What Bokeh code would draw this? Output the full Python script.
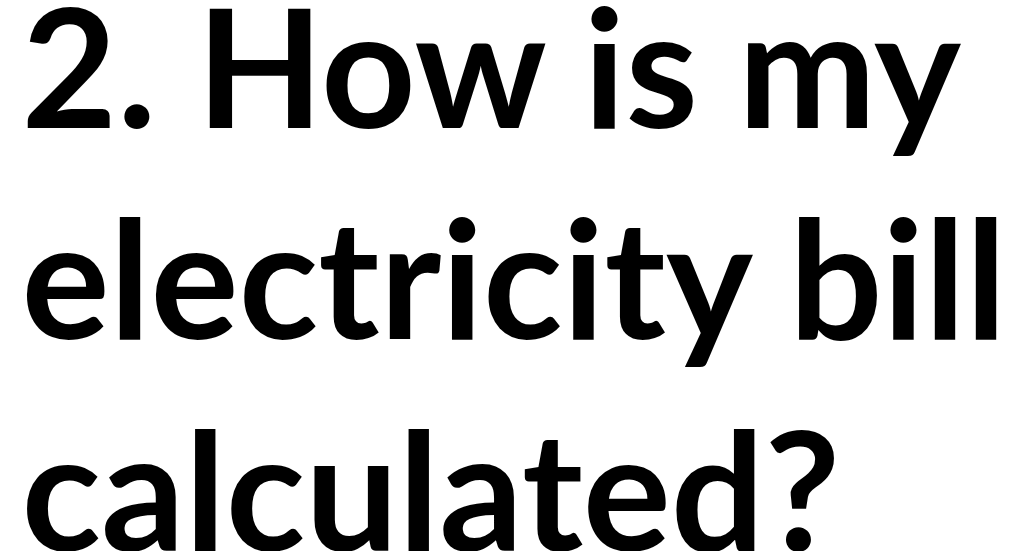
from bokeh.plotting import figure
from bokeh.models import Range1d, ColumnDataSource
from bokeh.core.properties import value
from bokeh.embed import file_html
from bokeh.resources import INLINE

lines = ["2. How is my", "electricity bill", "calculated?"]

W, H = 999, 551
FONT_PX = 165
left = 21
first_baseline = 119
line_gap = 211.5
# the renderer puts the alphabetic baseline lower than the anchor; compensate
baseline_shift = 0.337 * FONT_PX

src = ColumnDataSource(dict(
    x=[left] * len(lines),
    y=[first_baseline - baseline_shift + i * line_gap for i in range(len(lines))],
    text=lines,
))

p = figure(width=W, height=H, output_backend="svg", toolbar_location=None,
           x_range=Range1d(0, W), y_range=Range1d(H, 0),
           min_border=0, outline_line_color=None)
p.axis.visible = False
p.grid.visible = False
p.background_fill_color = "white"
p.border_fill_color = "white"

p.text(x="x", y="y", text="text", source=src,
       text_font=value("Lato"), text_font_style="bold",
       text_font_size=f"{FONT_PX}px", text_color="black",
       text_baseline="alphabetic", text_align="left")

open("out.html", "w").write(file_html(p, INLINE))
